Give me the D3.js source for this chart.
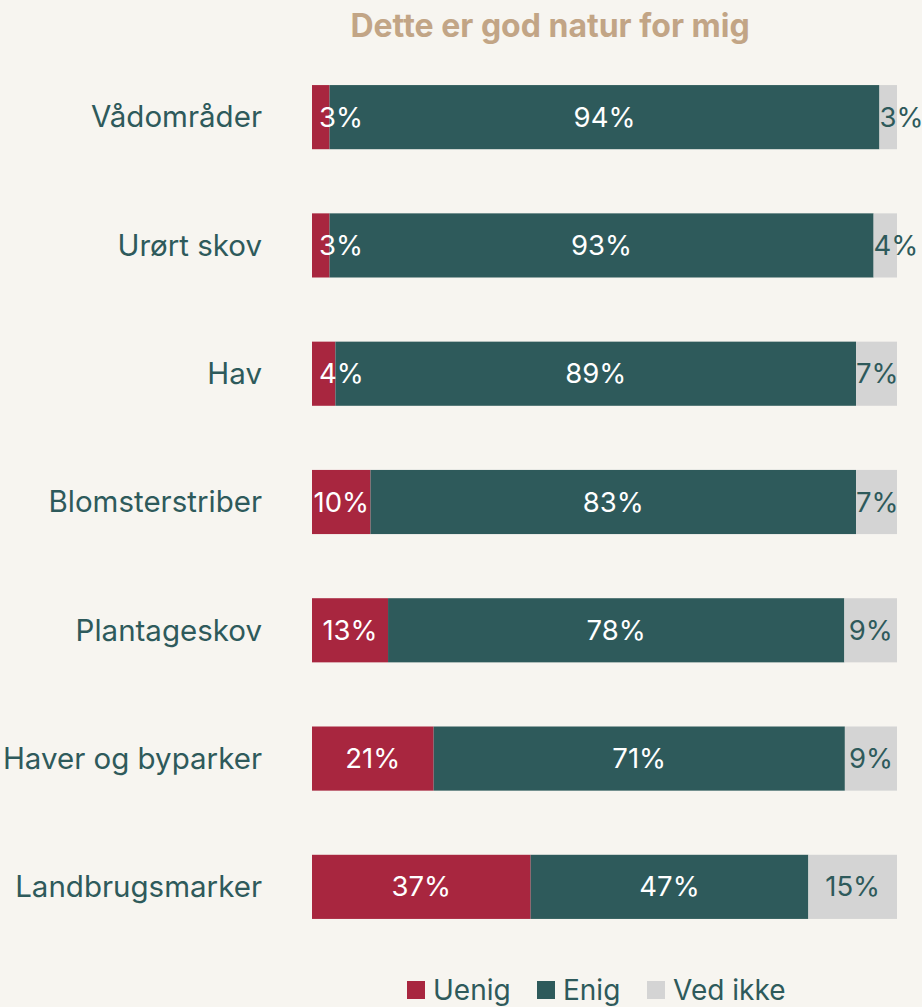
<!DOCTYPE html>
<html>
<head>
<meta charset="utf-8">
<script src="https://cdn.jsdelivr.net/npm/d3@7"></script>
<style>
  body { margin: 0; background: #f7f5f0; }
  svg { display: block; font-family: Inter, "Noto Sans", sans-serif; }
</style>
</head>
<body>
<div id="chart"></div>
<script>
// categories (top to bottom) and the three answer series, in percent
var categories = ["Vådområder", "Urørt skov", "Hav", "Blomsterstriber", "Plantageskov", "Haver og byparker", "Landbrugsmarker"];
var uenig = [3, 3, 4, 10, 13, 21, 37];
var enig = [94, 93, 89, 83, 78, 71, 47];
var vedIkke = [3, 4, 7, 7, 9, 9, 15];
var seriesNames = ["Uenig", "Enig", "Ved ikke"];
var title = "Dette er god natur for mig";

var width = 922, height = 1007;
var colors = { "Uenig": "#a8263f", "Enig": "#2e5a5b", "Ved ikke": "#d4d4d4" };
var labelColors = { "Uenig": "#ffffff", "Enig": "#ffffff", "Ved ikke": "#2e5a5b" };

// build rows for the stack
var rows = categories.map(function(c, i) {
    return { category: c, "Uenig": uenig[i], "Enig": enig[i], "Ved ikke": vedIkke[i] };
});

var svg = d3.select("#chart").append("svg").attr("width", width).attr("height", height);

// title
svg.append("text").attr("x", 550).attr("y", 37).attr("text-anchor", "middle")
    .style("font-size", "32px").style("font-weight", "bold").style("fill", "#c2a586")
    .text(title);

// scales
var x = d3.scaleLinear().domain([0, 1]).range([312, 897]);
var y = d3.scaleBand().domain(categories).range([53, 951]).paddingInner(0.5).paddingOuter(0.25);

// stack, normalised so every row fills the bar
var stack = d3.stack().keys(seriesNames).offset(d3.stackOffsetExpand);
var stacked = stack(rows);

// category labels
svg.append("g").selectAll("text").data(categories).enter().append("text")
    .attr("x", 262).attr("y", function(d) { return y(d) + y.bandwidth() / 2; })
    .attr("dy", "0.35em").attr("text-anchor", "end")
    .style("font-size", "29.5px").style("fill", "#2e5a5b")
    .text(function(d) { return d; });

// bars
var groups = svg.append("g").selectAll("g").data(stacked).enter().append("g")
    .attr("fill", function(d) { return colors[d.key]; });

groups.selectAll("rect").data(function(d) { return d; }).enter().append("rect")
    .attr("x", function(d) { return x(d[0]); })
    .attr("y", function(d) { return y(d.data.category); })
    .attr("width", function(d) { return x(d[1]) - x(d[0]); })
    .attr("height", y.bandwidth());

// value labels
stacked.forEach(function(s) {
    var g = svg.append("g");
    s.forEach(function(d) {
        var x0 = x(d[0]), x1 = x(d[1]);
        var t = g.append("text")
            .attr("y", y(d.data.category) + y.bandwidth() / 2)
            .attr("dy", "0.35em")
            .style("font-size", "27.5px")
            .style("fill", labelColors[s.key])
            .text(d.data[s.key] + "%");
        var w = t.node().getComputedTextLength();
        if (w > x1 - x0) {
            // too wide for its segment: start at the segment, kept inside the plot
            t.attr("text-anchor", "start").attr("x", Math.max(x0, 319));
        } else {
            t.attr("text-anchor", "middle").attr("x", (x0 + x1) / 2);
        }
    });
});

// legend
var legendX = [407, 537, 647];
var legend = svg.append("g").selectAll("g").data(seriesNames).enter().append("g")
    .attr("transform", function(d, i) { return "translate(" + legendX[i] + ",981)"; });
legend.append("rect").attr("width", 18).attr("height", 18)
    .attr("fill", function(d) { return colors[d]; });
legend.append("text").attr("x", 26).attr("y", 9).attr("dy", "0.35em")
    .style("font-size", "28px").style("fill", "#2e5a5b")
    .text(function(d) { return d; });
</script>
</body>
</html>
